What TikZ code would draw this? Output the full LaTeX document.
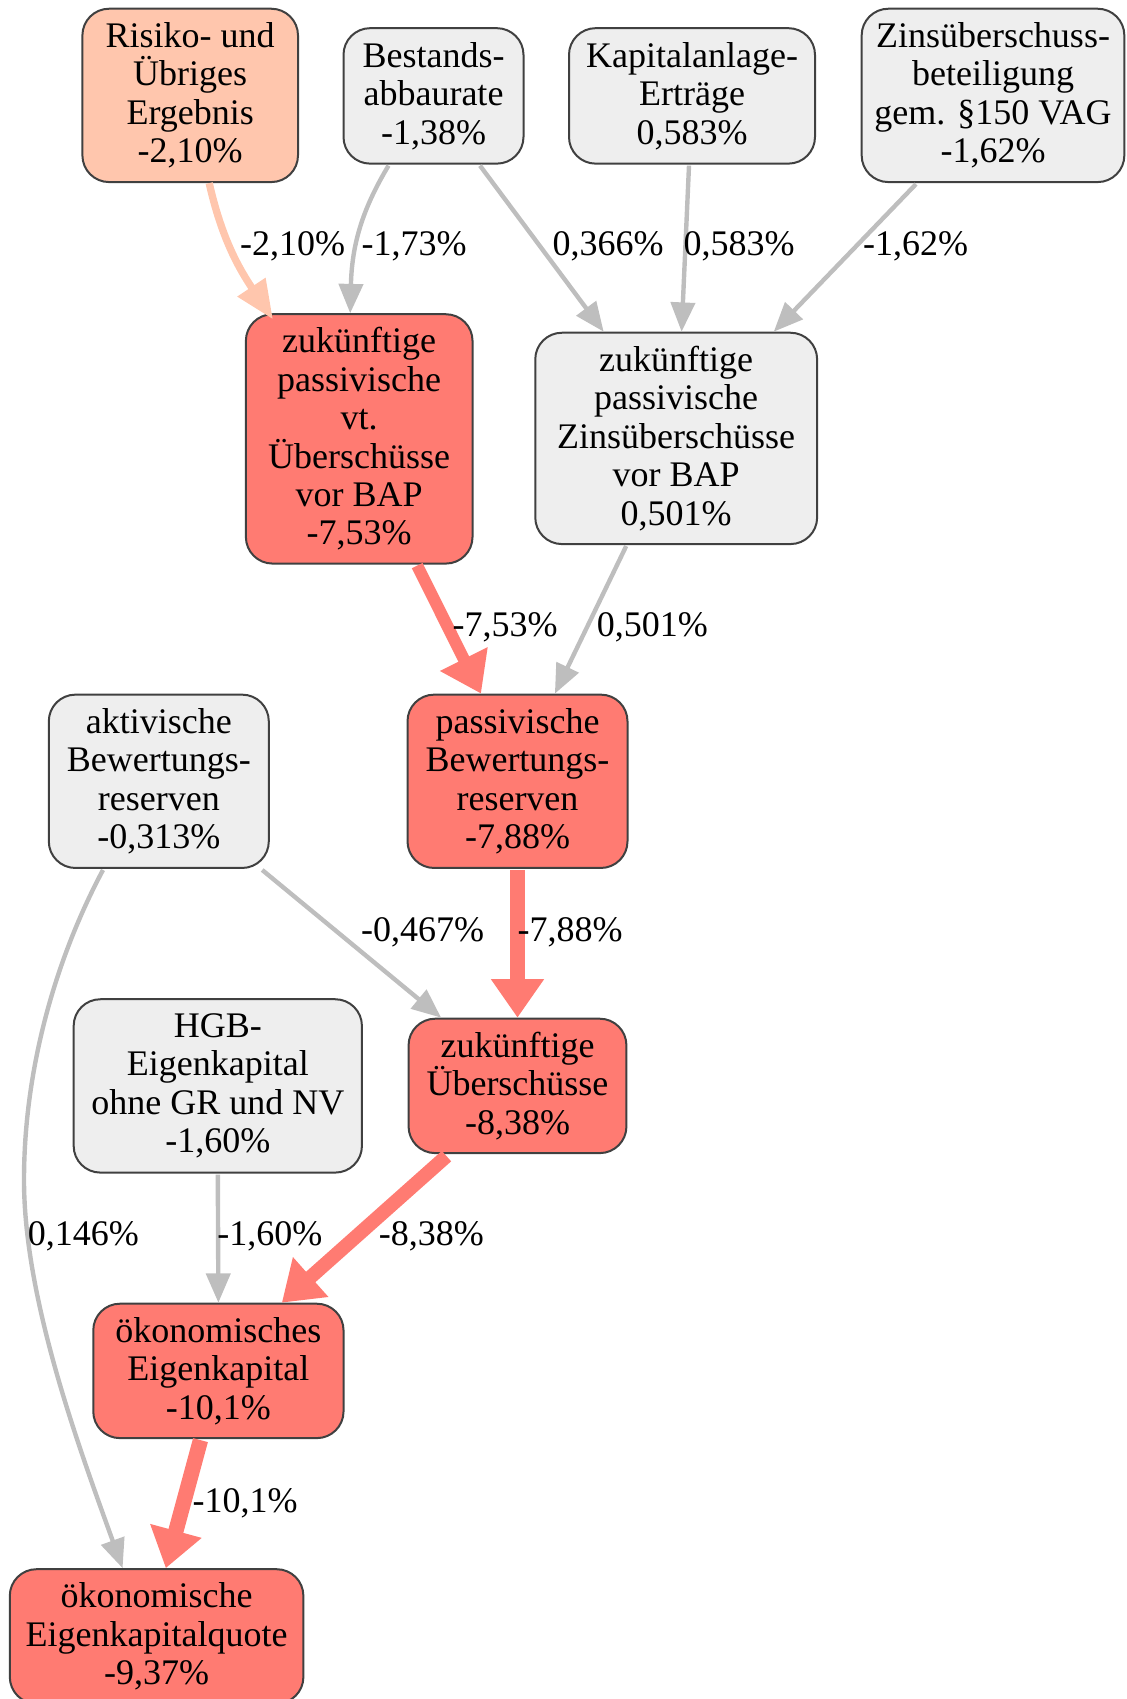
\documentclass[tikz,border=0pt]{standalone}
\usepackage{fontspec}
\setmainfont{Liberation Serif}
\usetikzlibrary{arrows.meta,calc}
\definecolor{boxgray}{HTML}{EEEEEE}
\definecolor{boxred}{HTML}{FF7B72}
\definecolor{boxpeach}{HTML}{FFC6AD}
\definecolor{bordergray}{HTML}{404040}
\definecolor{edgegray}{HTML}{BEBEBE}
\tikzset{
  box/.style={draw=bordergray, line width=1.5pt, rounded corners=20pt, align=center, inner sep=2pt,
    font=\fontsize{27}{28.8}\selectfont},
  gbox/.style={box, fill=boxgray},
  rbox/.style={box, fill=boxred},
  pbox/.style={box, fill=boxpeach},
  lbl/.style={font=\fontsize{27}{28.8}\selectfont, inner sep=0pt},
  gedge/.style={draw=edgegray, line width=3.3pt, -{Triangle[length=22pt,width=18pt]}},
  pedge/.style={draw=boxpeach, line width=5.5pt, -{Triangle[length=29pt,width=24pt]}},
  redge/.style={draw=boxred, line width=#1, -{Triangle[length=29pt,width=38pt]}},
}
\begin{document}
\begin{tikzpicture}[x=0.75pt,y=-0.75pt]
\useasboundingbox (0,0) rectangle (1127,1699);
% nodes
\node[pbox, minimum width=161.7pt, minimum height=130pt] (risiko) at (190.2,95.4) {Risiko- und\\Übriges\\Ergebnis\\-2,10\%};
\node[gbox, minimum width=135pt, minimum height=101.6pt] (bestand) at (433.5,95.9) {Bestands-\\abbaurate\\-1,38\%};
\node[gbox, minimum width=184.5pt, minimum height=101.6pt] (kapital) at (692,95.9) {Kapitalanlage-\\Erträge\\0,583\%};
\node[gbox, minimum width=197pt, minimum height=130pt] (zins) at (993,95.4) {Zinsüberschuss-\\beteiligung\\gem. §150 VAG\\-1,62\%};
\node[rbox, minimum width=170pt, minimum height=187pt] (zpvt) at (359.2,438.9) {zukünftige\\passivische\\vt.\\Überschüsse\\vor BAP\\-7,53\%};
\node[gbox, minimum width=211.4pt, minimum height=158.5pt] (zpz) at (676.2,438.4) {zukünftige\\passivische\\Zinsüberschüsse\\vor BAP\\0,501\%};
\node[gbox, minimum width=165pt, minimum height=130pt] (aktiv) at (158.8,781.3) {aktivische\\Bewertungs-\\reserven\\-0,313\%};
\node[rbox, minimum width=165pt, minimum height=130pt] (passbr) at (517.5,781.3) {passivische\\Bewertungs-\\reserven\\-7,88\%};
\node[gbox, minimum width=216.2pt, minimum height=130pt] (hgb) at (217.8,1085.9) {HGB-\\Eigenkapital\\ohne GR und NV\\-1,60\%};
\node[rbox, minimum width=163.4pt, minimum height=100.8pt] (zue) at (517.5,1085.9) {zukünftige\\Überschüsse\\-8,38\%};
\node[rbox, minimum width=187.7pt, minimum height=100.8pt] (oek) at (218.4,1370.9) {ökonomisches\\Eigenkapital\\-10,1\%};
\node[rbox, minimum width=220.2pt, minimum height=100.8pt] (oekq) at (156.6,1636.4) {ökonomische\\Eigenkapitalquote\\-9,37\%};
% edges
\draw[pedge] ($(risiko.south)+(19,0)$) .. controls (222,240) and (240,270) .. ($(zpvt.north west)+(28,6)$);
\draw[gedge] ($(bestand.south)+(-45,1)$) .. controls (365,205) and (352,240) .. ($(zpvt.north)+(-9,0)$);
\draw[gedge] ($(bestand.south)+(46.5,1)$) -- ($(zpz.north west)+(69.4,0)$);
\draw[gedge] ($(kapital.south)+(-3,1)$) -- ($(zpz.north)+(5.4,0)$);
\draw[gedge] ($(zins.south)+(-77,1)$) -- ($(zpz.north east)+(-44.4,0)$);
\draw[redge=9pt] ($(zpvt.south)+(58,1)$) -- ($(passbr.north)+(-36.5,0)$);
\draw[gedge] ($(zpz.south)+(-50,1)$) -- ($(passbr.north)+(37.4,0)$);
\draw[gedge] ($(aktiv.south east)+(-7.6,1)$) -- ($(zue.north west)+(33.6,0)$);
\draw[redge=11pt] ($(passbr.south)+(0,1)$) -- (zue.north);
\draw[gedge] ($(aktiv.south)+(-55.8,1)$) .. controls (55,960) and (24,1070) .. (24,1180) .. controls (24,1300) and (80,1450) .. ($(oekq.north)+(-34,0)$);
\draw[gedge] ($(hgb.south)+(0,1)$) -- (oek.north);
\draw[redge=10.5pt] ($(zue.south)+(-71,2)$) -- ($(oek.north)+(63.4,0)$);
\draw[redge=11.5pt] ($(oek.south)+(-17.9,1)$) -- ($(oekq.north)+(9.2,0)$);
% labels
\node[lbl] (l1) at (292.6,246) {-2,10\%};
\node[lbl] (l2) at (414,246) {-1,73\%};
\node[lbl] (l3) at (608,246) {0,366\%};
\node[lbl] (l4) at (739,246) {0,583\%};
\node[lbl] (l5) at (915.7,246) {-1,62\%};
\node[lbl] (l6) at (505,627.5) {-7,53\%};
\node[lbl] (l7) at (652.4,627.5) {0,501\%};
\node[lbl] (l8) at (422.6,932) {-0,467\%};
\node[lbl] (l9) at (570,932) {-7,88\%};
\node[lbl] (l10) at (83.4,1236.5) {0,146\%};
\node[lbl] (l11) at (269.8,1236.5) {-1,60\%};
\node[lbl] (l12) at (431.3,1236.5) {-8,38\%};
\node[lbl] (l13) at (245,1503) {-10,1\%};
\end{tikzpicture}
\end{document}
